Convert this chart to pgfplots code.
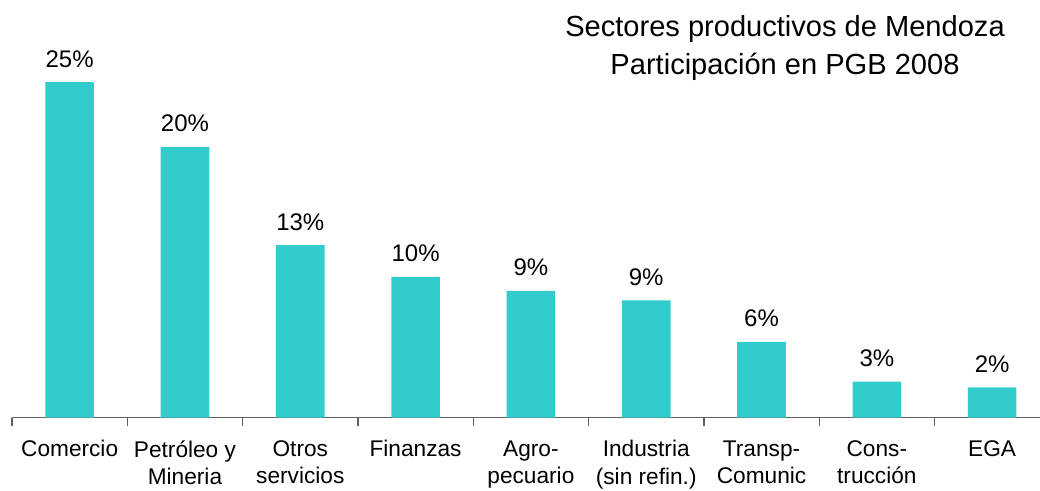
\documentclass[border=0pt]{standalone}
\usepackage{fontspec}
\setmainfont{Liberation Sans}
\usepackage{pgfplots}
\usepackage{pgfplotstable}
\pgfplotsset{compat=1.18}
\definecolor{barc}{HTML}{33CCCC}
\definecolor{axc}{HTML}{606060}
\pgfplotstableread{
x y lab
0 25.0 25
1 20.16 20
2 12.85 13
3 10.47 10
4 9.43 9
5 8.73 9
6 5.63 6
7 2.67 3
8 2.25 2
}\data
\begin{document}
\begin{tikzpicture}
\begin{axis}[
  scale only axis,
  width=771pt, height=301.95pt,
  xmin=-0.5, xmax=8.415,
  ymin=0, ymax=30,
  axis x line*=bottom,
  axis y line=none,
  axis line style={draw=axc, line width=1pt},
  xtick={0,...,8},
  xticklabels={Comercio,{Petróleo y\\Mineria},{Otros\\servicios},Finanzas,{Agro-\\pecuario},{Industria\\(sin refin.)},{Transp-\\Comunic},{Cons-\\trucción},EGA},
  major tick length=0pt,
  minor xtick={-0.5,0.5,...,7.5},
  minor tick length=6pt,
  tick align=outside,
  minor tick style={draw=axc, line width=1pt},
  xticklabel style={inner sep=0pt, anchor=north, yshift=-17pt, align=center, font=\fontsize{17}{20.5}\selectfont},
  ytick=\empty,
  ybar, bar width=36.5pt,
  point meta=explicit symbolic,
  nodes near coords={\pgfplotspointmeta\%},
  every node near coord/.append style={anchor=base, yshift=11.25pt, inner sep=0pt, font=\fontsize{18}{22}\selectfont, text=black},
]
\addplot[fill=barc, draw=none] table[x=x, y=y, meta=lab] {\data};
\end{axis}
\node[anchor=base, font=\fontsize{21.8}{26}\selectfont] at (579.75pt,285.4pt) {Sectores productivos de Mendoza};
\node[anchor=base, font=\fontsize{21.8}{26}\selectfont] at (579.75pt,256.9pt) {Participación en PGB 2008};
\pgfresetboundingbox
\path[use as bounding box] (-9pt,-54.375pt) rectangle (771pt,313.125pt);
\end{tikzpicture}
\end{document}
